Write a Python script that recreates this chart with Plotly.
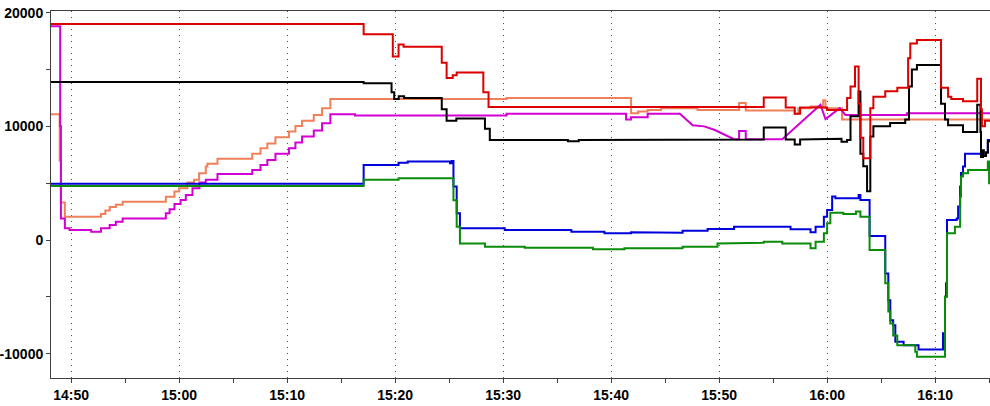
import plotly.graph_objects as go

DAY = "2000-01-01 "

# --- sampled readings (time of change, value held until the next sample) ---
red_t = ["14:48:00", "15:17:05", "15:19:47", "15:20:19", "15:20:47", "15:24:19", "15:24:46",
         "15:25:20", "15:25:42", "15:28:10", "15:28:39", "15:54:08", "15:56:10", "15:57:00",
         "15:57:30", "16:00:00", "16:01:51", "16:02:10", "16:02:35", "16:02:55", "16:03:05",
         "16:03:21", "16:04:00", "16:04:17", "16:05:23", "16:06:30", "16:07:30", "16:07:42",
         "16:08:19", "16:10:33", "16:11:12", "16:11:30", "16:12:35", "16:13:54", "16:14:15",
         "16:14:20", "16:14:37", "16:15:10"]
red_v = [19000, 18100, 16150, 17200, 17000, 15600, 14250,
         14500, 14750, 13000, 11700, 12550, 11650, 11100,
         11650, 11450, 12500, 13500, 15270, 12000, 9000,
         7200, 11600, 12600, 13100, 13400, 16000, 17300,
         17600, 13400, 12600, 12400, 12200, 14200, 11500,
         10000, 10500, 10500]

black_t = ["14:48:00", "15:17:05", "15:19:40", "15:19:55", "15:20:20", "15:20:50", "15:24:19",
           "15:24:46", "15:25:40", "15:28:19", "15:28:46", "15:30:00", "15:30:40", "15:36:00",
           "15:37:00", "15:41:30", "15:54:08", "15:56:10", "15:57:00", "15:57:30", "16:00:00",
           "16:01:20", "16:01:51", "16:02:10", "16:02:55", "16:03:05", "16:03:21", "16:03:42",
           "16:04:00", "16:04:17", "16:05:50", "16:07:14", "16:07:35", "16:07:51", "16:08:19",
           "16:10:33", "16:10:55", "16:11:12", "16:12:35", "16:13:54", "16:14:12", "16:14:15",
           "16:14:26", "16:14:31", "16:14:43", "16:14:53", "16:15:10"]
black_v = [13900, 13800, 13000, 12400, 12650, 12500, 11500,
           10500, 10700, 9800, 8800, 8750, 8800, 8700,
           8800, 8850, 9900, 8850, 8400, 8850, 8900,
           8650, 8800, 10900, 13070, 7600, 6500, 4300,
           9100, 10000, 10300, 10600, 13500, 15000, 15400,
           12000, 10600, 10100, 9500, 11900, 9500, 7300,
           7900, 7400, 7700, 8700, 8700]

salmon_t = ["14:48:00", "14:48:56", "14:49:03", "14:49:25", "14:52:46", "14:53:10", "14:53:34",
            "14:54:08", "14:54:46", "14:58:46", "14:59:34", "15:00:00", "15:00:46", "15:01:23",
            "15:01:51", "15:02:28", "15:02:37", "15:03:33", "15:06:46", "15:07:32", "15:08:10",
            "15:08:55", "15:10:10", "15:10:46", "15:11:23", "15:12:28", "15:13:14", "15:14:00",
            "15:30:19", "15:41:51", "15:42:30", "15:43:23", "15:44:37", "15:48:00", "15:51:51",
            "15:52:28", "15:57:00", "15:57:20", "15:58:28", "15:59:38", "15:59:51", "16:01:23",
            "16:15:10"]
salmon_v = [11070, 7000, 3300, 2050, 2300, 2600, 2900,
            3100, 3370, 3800, 4260, 4550, 5050, 5300,
            5870, 6460, 6700, 7160, 7580, 8080, 8500,
            9050, 9540, 10040, 10500, 11000, 11600, 12400,
            12500, 11150, 11300, 11450, 11600, 11450, 12050,
            11400, 11100, 11600, 11750, 12300, 11600, 10600,
            10600]

magenta_t = ["14:48:00", "14:48:59", "14:49:03", "14:49:25", "14:49:51", "14:51:51", "14:52:46",
             "14:53:34", "14:54:08", "14:54:46", "14:58:46", "14:59:07", "14:59:34", "15:00:08",
             "15:00:37", "15:01:14", "15:01:53", "15:02:28", "15:03:33", "15:06:46", "15:07:32",
             "15:08:10", "15:08:55", "15:10:10", "15:10:46", "15:11:23", "15:12:28", "15:13:14",
             "15:14:00", "15:16:17", "15:30:19", "15:41:23", "15:41:50", "15:43:23", "15:46:19",
             "15:47:33", "15:48:37", "15:49:33", "15:51:23", "15:51:51", "15:52:28", "15:55:51",
             "15:59:23", "15:59:51", "16:01:10", "16:01:42", "16:07:23", "16:15:10"]
magenta_v = [18800, 10000, 1900, 1030, 880, 730, 1030,
             1320, 1600, 1900, 2350, 2700, 3170, 3520,
             3960, 4550, 5050, 5300, 5800, 6170, 6600,
             7050, 7580, 8080, 8580, 9100, 9630, 10280,
             11070, 10950, 11100, 10600, 10800, 11100, 11150,
             10100, 10000, 9700, 8870, 9600, 8870, 8870,
             11900, 10640, 11600, 11000, 11150, 11150]
# samples reached by a straight slope from the previous one
magenta_ramp_t = ["15:47:33", "15:48:37", "15:49:33", "15:51:23",
                  "15:59:23", "15:59:51", "16:01:10", "16:01:42"]

blue_t = ["14:48:00", "15:17:05", "15:20:19", "15:21:10", "15:25:05", "15:25:15", "15:25:24",
          "15:25:42", "15:26:00", "15:30:09", "15:36:19", "15:39:23", "15:41:51", "15:44:37",
          "15:46:37", "15:48:56", "15:51:23", "15:55:42", "15:56:37", "15:58:28", "15:58:56",
          "15:59:42", "16:00:00", "16:00:28", "16:00:46", "16:02:55", "16:03:05", "16:03:56",
          "16:05:23", "16:05:40", "16:05:51", "16:06:07", "16:06:19", "16:07:05", "16:08:28",
          "16:10:44", "16:10:55", "16:11:01", "16:11:06", "16:12:00", "16:12:08", "16:12:19",
          "16:12:24", "16:12:35", "16:12:46", "16:14:26", "16:14:43", "16:14:53", "16:15:10"]
blue_v = [4960, 6600, 6800, 6900, 6750, 6950, 4700,
          2350, 1030, 880, 730, 590, 680, 650,
          820, 970, 1170, 1170, 940, 680, 1170,
          2050, 2640, 3820, 3670, 3960, 3520, 350,
          -2940, -5300, -7050, -7500, -8960, -9250, -9630,
          -8200, -5000, -3800, 1760, 1900, 2940, 4700,
          5900, 6460, 7600, 7400, 7700, 8800, 8800]

green_t = ["14:48:00", "15:17:05", "15:20:19", "15:25:24", "15:25:42", "15:26:00", "15:28:19",
           "15:32:00", "15:38:19", "15:41:14", "15:46:37", "15:49:51", "15:51:23", "15:54:08",
           "15:55:51", "15:58:28", "15:58:56", "15:59:42", "16:00:00", "16:00:18", "16:01:30",
           "16:02:40", "16:03:05", "16:03:56", "16:05:23", "16:05:40", "16:05:51", "16:06:07",
           "16:06:30", "16:08:10", "16:08:19", "16:10:55", "16:11:06", "16:11:50", "16:12:19",
           "16:12:24", "16:12:35", "16:13:03", "16:14:53", "16:15:00", "16:15:10"]
green_v = [4760, 5300, 5440, 3500, 1170, -300, -590,
           -680, -820, -730, -590, -300, -240, -150,
           -300, -730, -150, 590, 1470, 2400, 2300,
           2500, 2050, -880, -3800, -6300, -7340, -8400,
           -9250, -9840, -10280, -5000, 590, 1170, 3820,
           5580, 5870, 6160, 6900, 5000, 5000]

y_tick_vals = [-10000, 0, 10000, 20000]
y_tick_text = ["-10000", "0", "10000", "20000"]
y_minor_vals = [-5000, 5000, 15000]


def corners(times, values, ramp_times=()):
    """Turn held samples into polyline vertices; ramped samples get a sloped segment."""
    xs, ys = [], []
    for i, (t, v) in enumerate(zip(times, values)):
        if i > 0 and t not in ramp_times:
            xs.append(DAY + t)
            ys.append(values[i - 1])
        xs.append(DAY + t)
        ys.append(v)
    return xs, ys


fig = go.Figure()
traces = [
    (salmon_t, salmon_v, (), "#F0805A"),
    (magenta_t, magenta_v, magenta_ramp_t, "#D200D2"),
    (blue_t, blue_v, (), "#0000DC"),
    (green_t, green_v, (), "#0A8C0A"),
    (black_t, black_v, (), "#000000"),
    (red_t, red_v, (), "#DC0000"),
]
for t, v, ramps, c in traces:
    xs, ys = corners(t, v, set(ramps))
    fig.add_trace(go.Scatter(
        x=xs, y=ys, mode="lines",
        line=dict(color=c, width=2, shape="linear"),
        hoverinfo="skip", showlegend=False,
    ))

axis_font = dict(family="Liberation Sans, Arial, sans-serif", size=14, color="#000000", weight="bold")

fig.update_layout(
    width=990, height=406,
    margin=dict(l=48, r=0, t=11, b=28),
    paper_bgcolor="#FFFFFF", plot_bgcolor="#FFFFFF",
    showlegend=False,
    xaxis=dict(
        type="date",
        range=[DAY + "14:48:08", DAY + "16:15:05"],
        tick0=DAY + "14:50:00", dtick=600000, tickformat="%H:%M",
        ticks="outside", ticklen=4, tickcolor="#404040", tickwidth=1,
        showline=True, linecolor="#404040", linewidth=1, mirror=True,
        showgrid=True, gridcolor="#505050", gridwidth=1, griddash="1px,5px",
        minor=dict(dtick=300000, ticks="outside", ticklen=4, tickcolor="#404040", showgrid=False),
        tickfont=axis_font, zeroline=False, fixedrange=True,
    ),
    yaxis=dict(
        range=[-12140, 20150],
        tickmode="array", tickvals=y_tick_vals, ticktext=y_tick_text,
        ticks="outside", ticklen=4, tickcolor="#404040", tickwidth=1,
        showline=True, linecolor="#404040", linewidth=1,
        showgrid=False, zeroline=False,
        minor=dict(tickmode="array", tickvals=y_minor_vals, ticks="outside", ticklen=4,
                   tickcolor="#404040", showgrid=False),
        tickfont=axis_font, ticklabelstandoff=0, fixedrange=True,
    ),
)

fig.write_html("out.html")
